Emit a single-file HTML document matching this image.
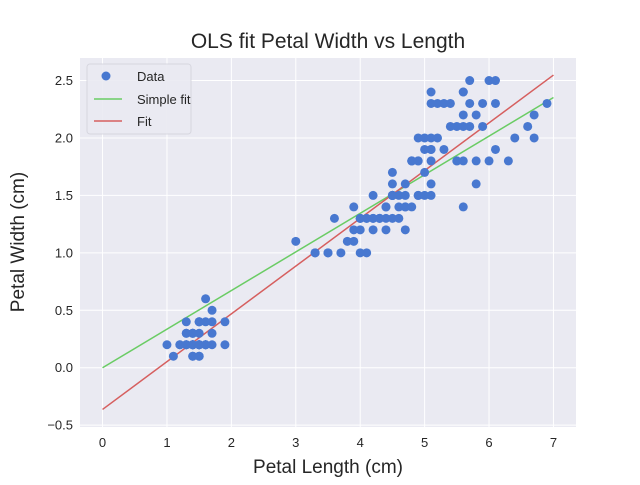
<!DOCTYPE html>
<html><head><meta charset="utf-8"><style>
body{margin:0;background:#fff;font-family:"Liberation Sans",sans-serif}
</style></head><body>
<svg id="chart" width="640" height="480" xmlns="http://www.w3.org/2000/svg" font-family="Liberation Sans, sans-serif">
<rect x="80" y="58" width="496" height="369" fill="#eaeaf2"/>
<g id="grid"></g>
<g id="lines"></g>
<g id="points"></g>
<g id="ticks" fill="#262626" font-size="13"></g>
<text x="328" y="48" text-anchor="middle" font-size="21" fill="#262626">OLS fit Petal Width vs Length</text>
<text x="328" y="473" text-anchor="middle" font-size="19" fill="#262626">Petal Length (cm)</text>
<text transform="translate(24,242) rotate(-90)" text-anchor="middle" font-size="19" fill="#262626">Petal Width (cm)</text>
<g>
<rect x="87" y="64" width="104" height="70" rx="3" fill="#eaeaf2" stroke="#d5d5de" opacity="0.9"/>
<circle cx="106" cy="76" r="4.5" fill="#4878d0"/>
<text x="137" y="81" font-size="13" fill="#262626">Data</text>
<line x1="94" y1="99" x2="122" y2="99" stroke="#6acc64" stroke-width="1.5"/>
<text x="137" y="104" font-size="13" fill="#262626">Simple fit</text>
<line x1="94" y1="121" x2="122" y2="121" stroke="#d65f5f" stroke-width="1.5"/>
<text x="137" y="126" font-size="13" fill="#262626">Fit</text>
</g>
</svg>
<script>
const petalLength=[1.4,1.4,1.3,1.5,1.4,1.7,1.4,1.5,1.4,1.5,1.5,1.6,1.4,1.1,1.2,1.5,1.3,1.4,1.7,1.5,1.7,1.5,1.0,1.7,1.9,1.6,1.6,1.5,1.4,1.6,1.6,1.5,1.5,1.4,1.5,1.2,1.3,1.4,1.3,1.5,1.3,1.3,1.3,1.6,1.9,1.4,1.6,1.4,1.5,1.4,
4.7,4.5,4.9,4.0,4.6,4.5,4.7,3.3,4.6,3.9,3.5,4.2,4.0,4.7,3.6,4.4,4.5,4.1,4.5,3.9,4.8,4.0,4.9,4.7,4.3,4.4,4.8,5.0,4.5,3.5,3.8,3.7,3.9,5.1,4.5,4.5,4.7,4.4,4.1,4.0,4.4,4.6,4.0,3.3,4.2,4.2,4.2,4.3,3.0,4.1,
6.0,5.1,5.9,5.6,5.8,6.6,4.5,6.3,5.8,6.1,5.1,5.3,5.5,5.0,5.1,5.3,5.5,6.7,6.9,5.0,5.7,4.9,6.7,4.9,5.7,6.0,4.8,4.9,5.6,5.8,6.1,6.4,5.6,5.1,5.6,6.1,5.6,5.5,4.8,5.4,5.6,5.1,5.1,5.9,5.7,5.2,5.0,5.2,5.4,5.1];
const petalWidth=[0.2,0.2,0.2,0.2,0.2,0.4,0.3,0.2,0.2,0.1,0.2,0.2,0.1,0.1,0.2,0.4,0.4,0.3,0.3,0.3,0.2,0.4,0.2,0.5,0.2,0.2,0.4,0.2,0.2,0.2,0.2,0.4,0.1,0.2,0.2,0.2,0.2,0.1,0.2,0.2,0.3,0.3,0.2,0.6,0.4,0.3,0.2,0.2,0.2,0.2,
1.4,1.5,1.5,1.3,1.5,1.3,1.6,1.0,1.3,1.4,1.0,1.5,1.0,1.4,1.3,1.4,1.5,1.0,1.5,1.1,1.8,1.3,1.5,1.2,1.3,1.4,1.4,1.7,1.5,1.0,1.1,1.0,1.2,1.6,1.5,1.6,1.5,1.3,1.3,1.3,1.2,1.4,1.2,1.0,1.3,1.2,1.3,1.3,1.1,1.3,
2.5,1.9,2.1,1.8,2.2,2.1,1.7,1.8,1.8,2.5,2.0,1.9,2.1,2.0,2.4,2.3,1.8,2.2,2.3,1.5,2.3,2.0,2.0,1.8,2.1,1.8,1.8,1.8,2.1,1.6,1.9,2.0,2.2,1.5,1.4,2.3,2.4,1.8,1.8,2.1,2.4,2.3,1.9,2.3,2.5,2.3,1.9,2.0,2.3,1.8];
const xTicks=[0,1,2,3,4,5,6,7];
const yTicks=[-0.5,0.0,0.5,1.0,1.5,2.0,2.5];
const yTickLabels=["\u22120.5","0.0","0.5","1.0","1.5","2.0","2.5"];
const simpleSlope=[0.336];
const fitCoef=[-0.363,0.4158];
const lineX=[0,7];

const NS="http://www.w3.org/2000/svg";
const L=80,R=576,T=58,B=427,xmin=-0.35,xmax=7.35,ymin=-0.516,ymax=2.696;
const sx=v=>L+(v-xmin)/(xmax-xmin)*(R-L);
const sy=v=>B-(v-ymin)/(ymax-ymin)*(B-T);
function mk(tag,parent,attrs){const e=document.createElementNS(NS,tag);for(const k in attrs)e.setAttribute(k,attrs[k]);document.getElementById(parent).appendChild(e);return e;}
xTicks.forEach(t=>{
  const g=mk('line','grid',{x1:sx(t),x2:sx(t),y1:T,y2:B,stroke:'#fff','stroke-width':1});
  
  
  const tx=mk('text','ticks',{x:sx(t),y:B+20,'text-anchor':'middle'});tx.textContent=t;
  
  
});
yTicks.forEach((t,i)=>{
  const g=mk('line','grid',{x1:L,x2:R,y1:sy(t),y2:sy(t),stroke:'#fff','stroke-width':1});
  
  
  const tx=mk('text','ticks',{x:L-7,y:sy(t)+4.5,'text-anchor':'end'});tx.textContent=yTickLabels[i];
  
  
});
petalLength.forEach((x,i)=>{
  const c=mk('circle','points',{cx:sx(x),cy:sy(petalWidth[i]),r:4.5,fill:'#4878d0'});
  
  
});
const s=mk('line','lines',{x1:sx(lineX[0]),y1:sy(simpleSlope[0]*lineX[0]),x2:sx(lineX[1]),y2:sy(simpleSlope[0]*lineX[1]),stroke:'#6acc64','stroke-width':1.5});


const f=mk('line','lines',{x1:sx(lineX[0]),y1:sy(fitCoef[0]+fitCoef[1]*lineX[0]),x2:sx(lineX[1]),y2:sy(fitCoef[0]+fitCoef[1]*lineX[1]),stroke:'#d65f5f','stroke-width':1.5});


</script>
</body></html>
